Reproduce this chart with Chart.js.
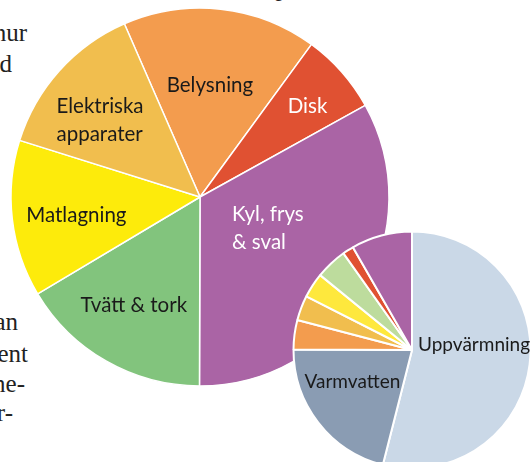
<!DOCTYPE html>
<html lang="sv">
<head>
  <meta charset="UTF-8" />
  <title>Hushållsel</title>
  <style>
    html, body { margin: 0; padding: 0; width: 530px; height: 462px; overflow: hidden; background: #fff; }
    body { position: relative; }
    .bok { position: absolute; font-family: "Liberation Serif", serif; font-size: 25px; line-height: 1; color: #222; white-space: nowrap; }
    #big { position: absolute; left: 0; top: -3px; width: 400px; height: 400px; }
    #small { position: absolute; left: 291.5px; top: 230px; width: 240px; height: 240px; z-index: 2; }
  </style>
</head>
<body>
  <!-- löptext bakom figuren, bara radsluten syns -->
  <div class="bok" style="top:-25px; right:242px;">p</div>
  <div class="bok" style="top:20px; right:503px;">hur</div>
  <div class="bok" style="top:51px; right:518px;">med</div>
  <div class="bok" style="top:309px; right:512px;">kan</div>
  <div class="bok" style="top:341px; right:502px;">procent</div>
  <div class="bok" style="top:371px; right:505px;">ene-</div>
  <div class="bok" style="top:400px; right:517px;">för-</div>

  <canvas id="big" width="400" height="400"></canvas>
  <canvas id="small" width="240" height="240"></canvas>

  <script src="https://cdn.jsdelivr.net/npm/chart.js"></script>
  <script>
    // hushållsel, andelar i procent
    const hushallLabels = [['Belysning'], ['Disk'], ['Kyl, frys', '& sval'], ['Tvätt & tork'], ['Matlagning'], ['Elektriska', 'apparater']];
    const hushallValues = [16.6, 6.9, 33.1, 16.4, 13.4, 13.6];
    const hushallColors = ['#F39C4E', '#E05132', '#AA64A5', '#82C47D', '#FDEB0B', '#F1BE4E'];

    // hela elanvändningen i bostaden
    const totalLabels = [['Uppvärmning'], ['Varmvatten'], ['Belysning'], ['Elektriska apparater'], ['Matlagning'], ['Tvätt & tork'], ['Disk'], ['Kyl, frys & sval']];
    const totalValues = [53.9, 21.1, 4.0, 3.4, 3.4, 4.3, 1.5, 8.3];
    const totalColors = ['#CAD8E7', '#8A9CB3', '#F39C4E', '#F1BE4E', '#FEE83D', '#BDDC9D', '#E05132', '#AA64A5'];

    // etiketter: vinkeljustering (grader) och andel av radien
    const sliceLabels = {
      id: 'sliceLabels',
      afterDatasetsDraw(chart, args, opts) {
        const ctx = chart.ctx;
        const meta = chart.getDatasetMeta(0);
        ctx.save();
        ctx.font = opts.font;
        ctx.textBaseline = 'middle';
        ctx.textAlign = 'left';
        meta.data.forEach((arc, i) => {
          const p = opts.place[i];
          if (!p) return;
          const lines = chart.data.labels[i];
          const a = (arc.startAngle + arc.endAngle) / 2 + p[0] * Math.PI / 180;
          const r = arc.outerRadius * p[1];
          const x = arc.x + Math.cos(a) * r;
          const y = arc.y + Math.sin(a) * r;
          const w = Math.max(...lines.map(l => ctx.measureText(l).width));
          const y0 = y - (lines.length - 1) * opts.lineHeight / 2;
          ctx.fillStyle = p[2] || '#1a1a1a';
          lines.forEach((l, j) => ctx.fillText(l, x - w / 2, y0 + j * opts.lineHeight));
        });
        ctx.restore();
      }
    };

    const common = {
      responsive: false,
      animation: false,
      devicePixelRatio: 1,
      layout: { padding: 0 },
      events: []
    };

    new Chart(document.getElementById('big'), {
      type: 'pie',
      data: {
        labels: hushallLabels,
        datasets: [{ data: hushallValues, backgroundColor: hushallColors, borderColor: '#fff', borderWidth: 1.5 }]
      },
      options: {
        ...common,
        rotation: -23.6,
        radius: 189,
        plugins: {
          legend: { display: false },
          tooltip: { enabled: false },
          sliceLabels: {
            font: '20.5px Lato',
            lineHeight: 27.5,
            place: [[-1.2, 0.593], [1.3, 0.744, '#fff'], [-5.6, 0.396, '#fff'], [1.7, 0.673], [-1.6, 0.661], [-4.5, 0.666]]
          }
        }
      },
      plugins: [sliceLabels]
    });

    new Chart(document.getElementById('small'), {
      type: 'pie',
      data: {
        labels: totalLabels,
        datasets: [{ data: totalValues, backgroundColor: totalColors, borderColor: '#fff', borderWidth: 2 }]
      },
      options: {
        ...common,
        rotation: 0,
        radius: 118.5,
        plugins: {
          legend: { display: false },
          tooltip: { enabled: false },
          sliceLabels: {
            font: '19px Lato',
            lineHeight: 27,
            place: [[-11.6, 0.525], [9.5, 0.571]]
          }
        }
      },
      plugins: [sliceLabels]
    });
  </script>
</body>
</html>
